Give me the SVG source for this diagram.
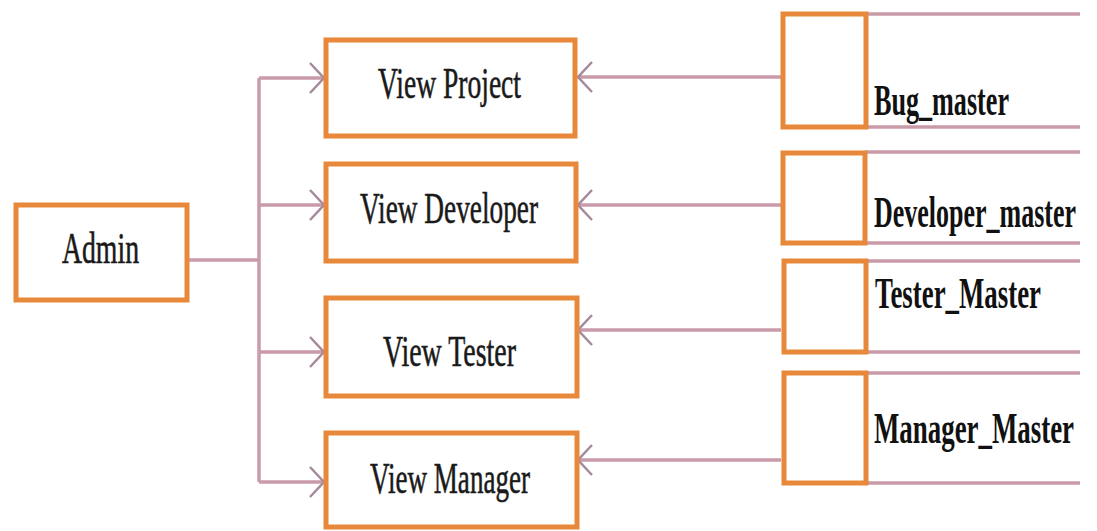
<svg xmlns="http://www.w3.org/2000/svg" width="1097" height="531" viewBox="0 0 1097 531">
<style>
.box{fill:#ffffff;stroke:#e8883a;stroke-width:5}
.conn{fill:none;stroke:#c99aa8;stroke-width:3.5}
.rule{fill:none;stroke:#c99aa8;stroke-width:3.5}
.lbl{font-family:"Liberation Serif","Times New Roman",serif;font-size:45px;fill:#1a1a1a;stroke:#1a1a1a;stroke-width:0.6}
.tbl{font-family:"Liberation Serif","Times New Roman",serif;font-size:45px;font-weight:bold;fill:#111111}
</style>
<defs>
<marker id="arr" viewBox="0 0 16 32" refX="15" refY="16" markerWidth="16" markerHeight="32" markerUnits="userSpaceOnUse" orient="auto">
<path d="M1,1 L15,16 L1,31" fill="none" stroke="#a48a9c" stroke-width="2.5"/>
</marker>
</defs>
<rect width="1097" height="531" fill="#ffffff"/>
<g id="connectors">
<path class="conn" d="M187,260 H259"/>
<path class="conn" d="M259,78 V482"/>
<path class="conn" d="M259,78 H324" marker-end="url(#arr)"/>
<path class="conn" d="M259,205 H324" marker-end="url(#arr)"/>
<path class="conn" d="M259,352 H324" marker-end="url(#arr)"/>
<path class="conn" d="M259,482 H324" marker-end="url(#arr)"/>
<path class="conn" d="M781,77 H578" marker-end="url(#arr)"/>
<path class="conn" d="M781,205 H578" marker-end="url(#arr)"/>
<path class="conn" d="M781,330 H578" marker-end="url(#arr)"/>
<path class="conn" d="M781,460 H578" marker-end="url(#arr)"/>
</g>
<g id="admin">
<rect class="box" x="16" y="205" width="171" height="95"/>
<text class="lbl" x="62" y="263" textLength="77" lengthAdjust="spacingAndGlyphs">Admin</text>
</g>
<g id="view-project">
<rect class="box" x="326" y="40" width="249" height="96"/>
<text class="lbl" x="378" y="98" textLength="143" lengthAdjust="spacingAndGlyphs">View Project</text>
</g>
<g id="view-developer">
<rect class="box" x="326" y="164" width="250" height="97"/>
<text class="lbl" x="360" y="223" textLength="178" lengthAdjust="spacingAndGlyphs">View Developer</text>
</g>
<g id="view-tester">
<rect class="box" x="326" y="298" width="251" height="98"/>
<text class="lbl" x="383" y="366" textLength="133" lengthAdjust="spacingAndGlyphs">View Tester</text>
</g>
<g id="view-manager">
<rect class="box" x="326" y="433" width="251" height="94"/>
<text class="lbl" x="370" y="493" textLength="160" lengthAdjust="spacingAndGlyphs">View Manager</text>
</g>
<g id="bug-master">
<path class="rule" d="M865,14 H1080 M865,127 H1080"/>
<rect class="box" x="783" y="14" width="83" height="113"/>
<text class="tbl" x="874" y="115" textLength="135" lengthAdjust="spacingAndGlyphs">Bug_master</text>
</g>
<g id="developer-master">
<path class="rule" d="M865,152 H1080 M865,243 H1080"/>
<rect class="box" x="783" y="153" width="82" height="90"/>
<text class="tbl" x="874" y="227" textLength="202" lengthAdjust="spacingAndGlyphs">Developer_master</text>
</g>
<g id="tester-master">
<path class="rule" d="M865,261 H1080 M865,352 H1080"/>
<rect class="box" x="784" y="261" width="82" height="91"/>
<text class="tbl" x="875" y="308" textLength="166" lengthAdjust="spacingAndGlyphs">Tester_Master</text>
</g>
<g id="manager-master">
<path class="rule" d="M865,373 H1080 M865,483 H1080"/>
<rect class="box" x="784" y="373" width="82" height="110"/>
<text class="tbl" x="874" y="443" textLength="200" lengthAdjust="spacingAndGlyphs">Manager_Master</text>
</g>
</svg>
